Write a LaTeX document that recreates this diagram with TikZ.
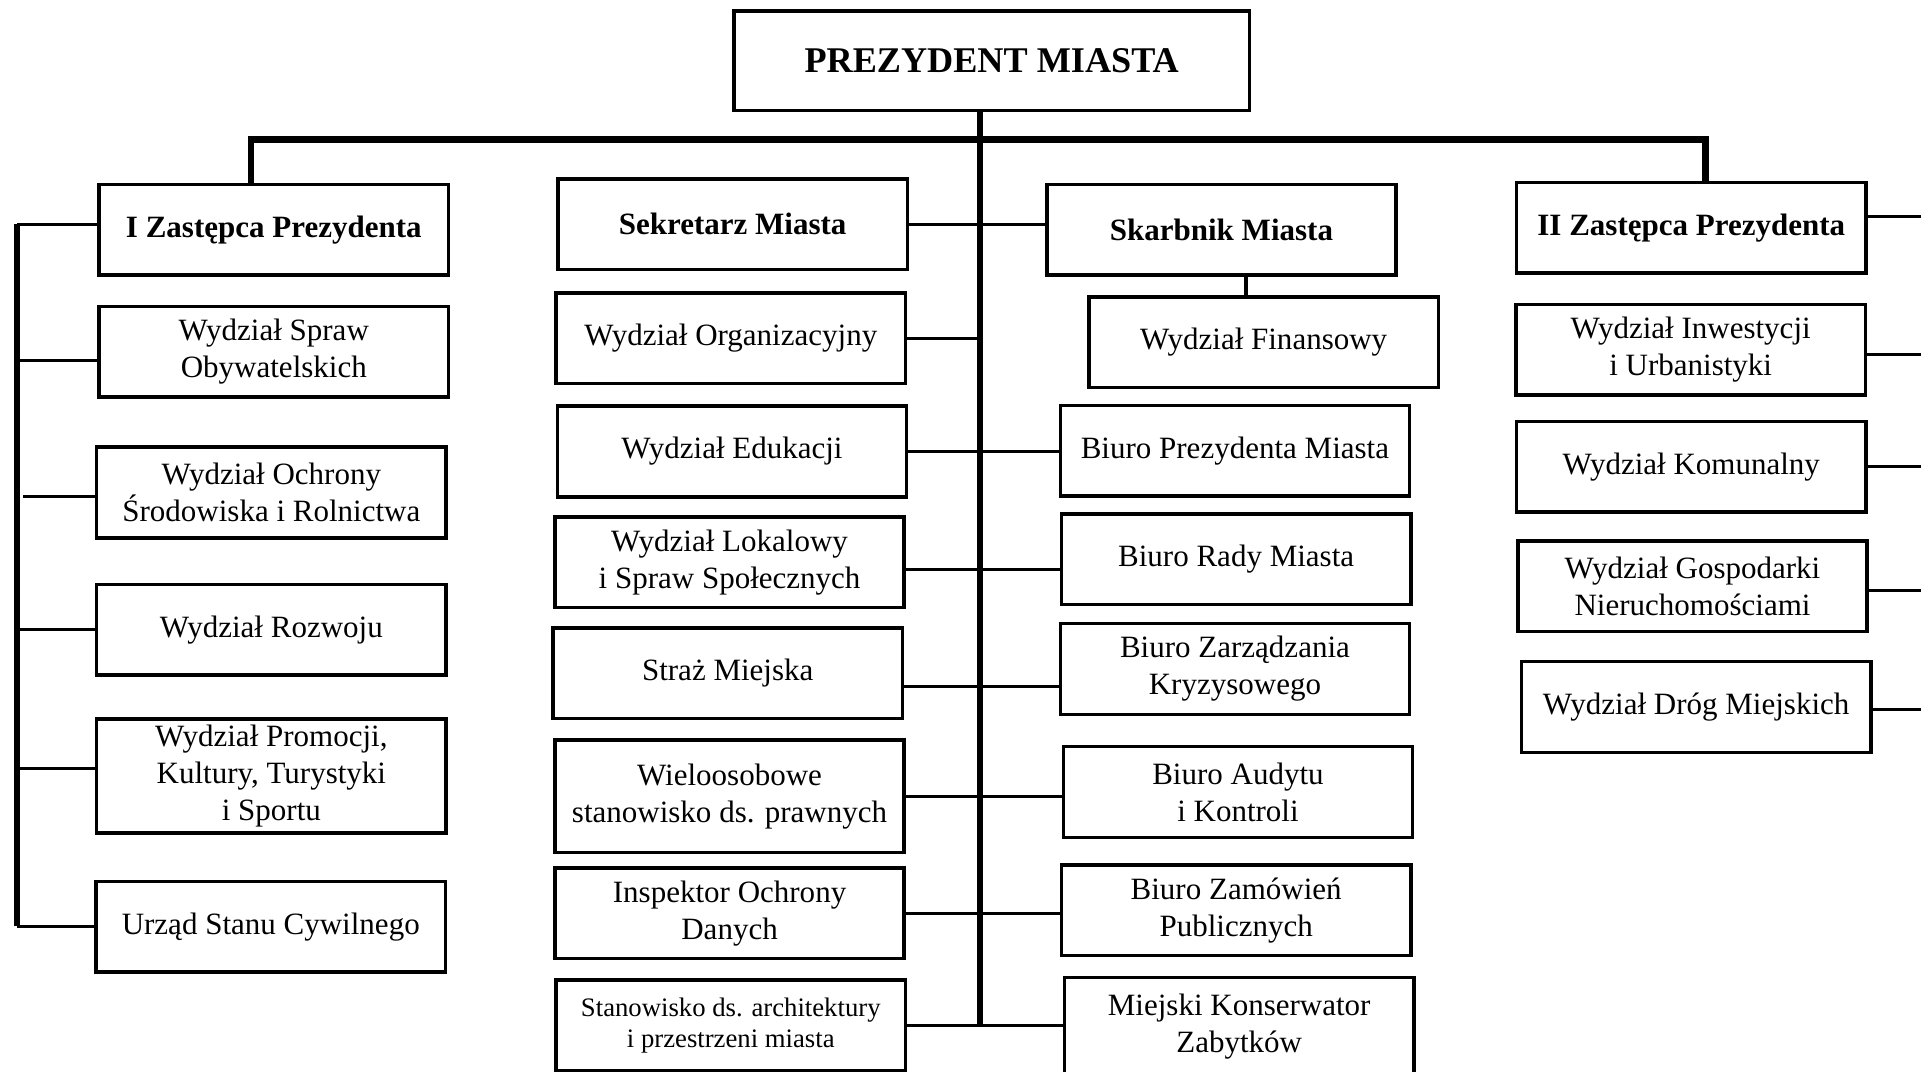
\documentclass[tikz,border=0pt]{standalone}
\usepackage{fontspec}
\setmainfont{Liberation Serif}
\usetikzlibrary{calc}
\begin{document}
\begin{tikzpicture}[x=0.025cm,y=-0.025cm]

	\tikzset{
	  dept/.style={
		draw,
		line width=2pt,
		inner sep=0pt,
		align=center,
		minimum width=7.125cm,
		minimum height=1.85cm,
		font=\fontsize{18}{21.3}\selectfont,
	  },
	  boss/.style={dept, font=\fontsize{18}{21.3}\selectfont\bfseries},
	  conn/.style={line width=1.8pt},
	  bar/.style={line width=3.8pt},
	}
	\useasboundingbox (0,0) rectangle (1568,875);

	% prezydent
	\node[dept, minimum width=10.525cm, minimum height=2.025cm, font=\fontsize{21}{24}\selectfont\bfseries] (pm) at (809.5,49.5) {PREZYDENT MIASTA};

	% I zastepca
	\node[boss] (z1) at (223.5,187.5) {I Zastępca Prezydenta};
	\node[dept] (wso) at (223.5,287) {Wydział Spraw\\Obywatelskich};
	\node[dept] (wos) at (221.5,402) {Wydział Ochrony\\Środowiska i Rolnictwa};
	\node[dept] (wr) at (221.5,514) {Wydział Rozwoju};
	\node[dept, minimum height=2.325cm] (wpk) at (221.5,633.5) {Wydział Promocji,\\Kultury, Turystyki\\i Sportu};
	\node[dept] (usc) at (221,756.5) {Urząd Stanu Cywilnego};

	% sekretarz
	\node[boss] (sek) at (598,183) {Sekretarz Miasta};
	\node[dept] (org) at (596.5,276) {Wydział Organizacyjny};
	\node[dept] (edu) at (597.5,368.5) {Wydział Edukacji};
	\node[dept] (lok) at (595.5,459) {Wydział Lokalowy\\i Spraw Społecznych};
	\node[dept] (straz) at (594,549.5) {Straż Miejska};
	\node[dept, minimum height=2.3cm] (wielo) at (595.5,650) {Wieloosobowe\\stanowisko ds. prawnych};
	\node[dept] (iod) at (595.5,745.5) {Inspektor Ochrony\\Danych};
	\node[dept, font=\fontsize{15.5}{17.8}\selectfont] (arch) at (596.5,837) {Stanowisko ds. architektury\\i przestrzeni miasta};

	% skarbnik
	\node[boss] (skarb) at (997,187.5) {Skarbnik Miasta};
	\node[dept] (fin) at (1031.5,279.5) {Wydział Finansowy};
	\node[dept] (bp) at (1008,368) {Biuro Prezydenta Miasta};
	\node[dept] (brm) at (1009,456.5) {Biuro Rady Miasta};
	\node[dept] (bzk) at (1008,546) {Biuro Zarządzania\\Kryzysowego};
	\node[dept] (baud) at (1010.5,646.5) {Biuro Audytu\\i Kontroli};
	\node[dept] (bzp) at (1009,743) {Biuro Zamówień\\Publicznych};
	\node[dept, minimum height=2cm] (mkz) at (1011.5,838) {Miejski Konserwator\\Zabytków};

	% II zastepca
	\node[boss] (z2) at (1380.5,186) {II Zastępca Prezydenta};
	\node[dept] (winw) at (1380,285.5) {Wydział Inwestycji\\i Urbanistyki};
	\node[dept] (wkom) at (1380.5,381) {Wydział Komunalny};
	\node[dept] (wgn) at (1381.5,478.5) {Wydział Gospodarki\\Nieruchomościami};
	\node[dept] (wdm) at (1384.5,577) {Wydział Dróg Miejskich};

	\coordinate (tk) at (800,114);
	\coordinate (lbranch) at (205,114);
	\coordinate (rbranch) at (1392,114);
	\coordinate (ltop) at (14,183);
	\coordinate (lbot) at (14,756);
	\coordinate (sf) at (1017,0);
	\coordinate (redge) at (1568,0);

	% glowne linie
	\draw[bar] (pm.south -| tk) -- (arch.east -| tk);
	\draw[bar] (lbranch |- z1.north) -- (lbranch) -- (rbranch) -- (rbranch |- z2.north);
	\draw[bar, line width=3.4pt] (ltop) -- (lbot);

	% lewa strona
	\draw[conn] (ltop) -- (ltop -| z1.west);
	\draw[conn] ($(wso.west)+(0,7)$) coordinate (c1) -- (c1 -| ltop);
	\draw[conn] ($(wos.west)+(0,3)$) -- ++(-59,0);
	\draw[conn] (wr.west) -- (wr.west -| ltop);
	\draw[conn] ($(wpk.west)+(0,-6.5)$) coordinate (c2) -- (c2 -| ltop);
	\draw[conn] (lbot) -- (lbot -| usc.west);

	% srodek
	\draw[conn] (sek.east) -- (sek.east -| skarb.west);
	\draw[conn] (org.east) -- (org.east -| tk);
	\draw[conn] (edu.east) -- (edu.east -| bp.west);
	\draw[conn] ($(lok.east)+(0,6)$) coordinate (c3) -- (c3 -| brm.west);
	\draw[conn] ($(straz.east)+(0,11)$) coordinate (c4) -- (c4 -| bzk.west);
	\draw[conn] (wielo.east) -- (wielo.east -| baud.west);
	\draw[conn] (iod.east) -- (iod.east -| bzp.west);
	\draw[conn] (arch.east) -- (arch.east -| mkz.west);
	\draw[conn] (sf |- skarb.south) -- (sf |- fin.north);

	% prawa strona
	\draw[conn] ($(z2.east)+(0,-9)$) coordinate (c5) -- (c5 -| redge);
	\draw[conn] ($(winw.east)+(0,3.5)$) coordinate (c6) -- (c6 -| redge);
	\draw[conn] (wkom.east) -- (wkom.east -| redge);
	\draw[conn] ($(wgn.east)+(0,3.5)$) coordinate (c7) -- (c7 -| redge);
	\draw[conn] ($(wdm.east)+(0,2)$) coordinate (c8) -- (c8 -| redge);

\end{tikzpicture}
\end{document}
